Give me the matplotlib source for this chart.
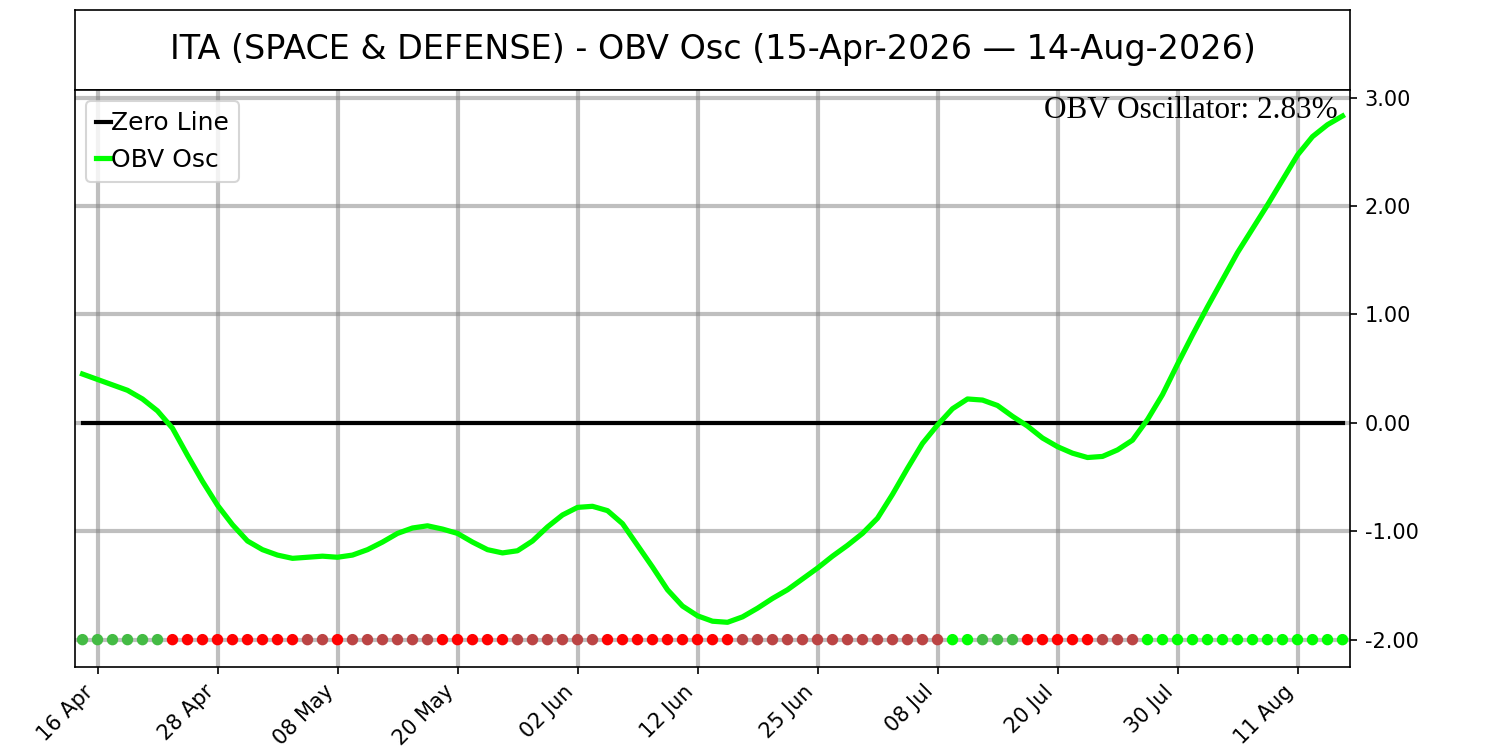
import matplotlib
matplotlib.use("Agg")
import matplotlib.pyplot as plt
import numpy as np

title = "ITA (SPACE & DEFENSE) - OBV Osc (15-Apr-2026 \u2014 14-Aug-2026)"

obv_osc = [
    0.45, 0.40, 0.35, 0.30, 0.22, 0.11, -0.05, -0.30, -0.54, -0.76,
    -0.94, -1.09, -1.17, -1.22, -1.25, -1.24, -1.23, -1.24, -1.22, -1.17,
    -1.10, -1.02, -0.97, -0.95, -0.98, -1.02, -1.10, -1.17, -1.20, -1.18,
    -1.09, -0.96, -0.85, -0.78, -0.77, -0.81, -0.93, -1.13, -1.33, -1.54,
    -1.69, -1.78, -1.83, -1.84, -1.79, -1.71, -1.62, -1.54, -1.44, -1.34,
    -1.23, -1.13, -1.02, -0.88, -0.66, -0.42, -0.19, -0.02, 0.13, 0.22,
    0.21, 0.16, 0.06, -0.03, -0.14, -0.22, -0.28, -0.32, -0.31, -0.25,
    -0.16, 0.03, 0.26, 0.54, 0.81, 1.07, 1.32, 1.57, 1.79, 2.01,
    2.24, 2.47, 2.64, 2.75, 2.83,
]

# dot state per bar: L = above zero & rising, G = above zero & falling,
# R = below zero & falling, B = below zero & rising
dot_state = ("GGGGGG" + "RRRRRRRRR" + "BB" + "R" + "BBBBBB" + "RRRRR" + "BBBBBB"
             + "RRRRRRRRR" + "BBBBBBBBBBBBBB" + "LL" + "GGG" + "RRRRR" + "BBB"
             + "LLLLLLLLLLLLLL")

tick_labels = ["16 Apr", "28 Apr", "08 May", "20 May", "02 Jun", "12 Jun",
               "25 Jun", "08 Jul", "20 Jul", "30 Jul", "11 Aug"]

state_colors = {"L": "#00FF00", "G": "#44BB44", "R": "#FF0000", "B": "#BB4444"}

n = len(obv_osc)
x = np.arange(n)

fig = plt.figure(figsize=(10, 5), dpi=150)

tax = fig.add_axes([0.05, 0.88, 0.85, 0.1067])
tax.set_xticks([])
tax.set_yticks([])
tax.text(0.5, 0.5, title, ha="center", va="center", fontsize=16, transform=tax.transAxes)

ax = fig.add_axes([0.05, 0.111, 0.85, 0.769])
ax.grid(True, color="gray", alpha=0.5, linewidth=2)
ax.set_axisbelow(True)

ax.plot(x, np.zeros(n), color="black", linewidth=2, label="Zero Line")
ax.plot(x, obv_osc, color="#00FF00", linewidth=2.5, label="OBV Osc")
ax.scatter(x, np.full(n, -2.0), c=[state_colors[s] for s in dot_state], s=20, zorder=3)

ax.set_xlim(-0.5, n - 0.5)
ax.set_ylim(-2.25, 3.07)
ax.set_yticks([-2, -1, 0, 1, 2, 3])
ax.yaxis.set_major_formatter(matplotlib.ticker.FormatStrFormatter("%.2f"))
ax.yaxis.tick_right()
ax.set_xticks(np.arange(1, n, 8))
ax.set_xticklabels(tick_labels, rotation=45, ha="right")

ax.legend(loc="upper left", fontsize=12, handlelength=0.6, handletextpad=0.0,
          borderaxespad=0.45)
ax.text(0.99, 0.99, "OBV Oscillator: %.2f%%" % obv_osc[-1], transform=ax.transAxes,
        ha="right", va="top", fontsize=15, family="Liberation Serif")

fig.savefig("out.png", dpi=150)
